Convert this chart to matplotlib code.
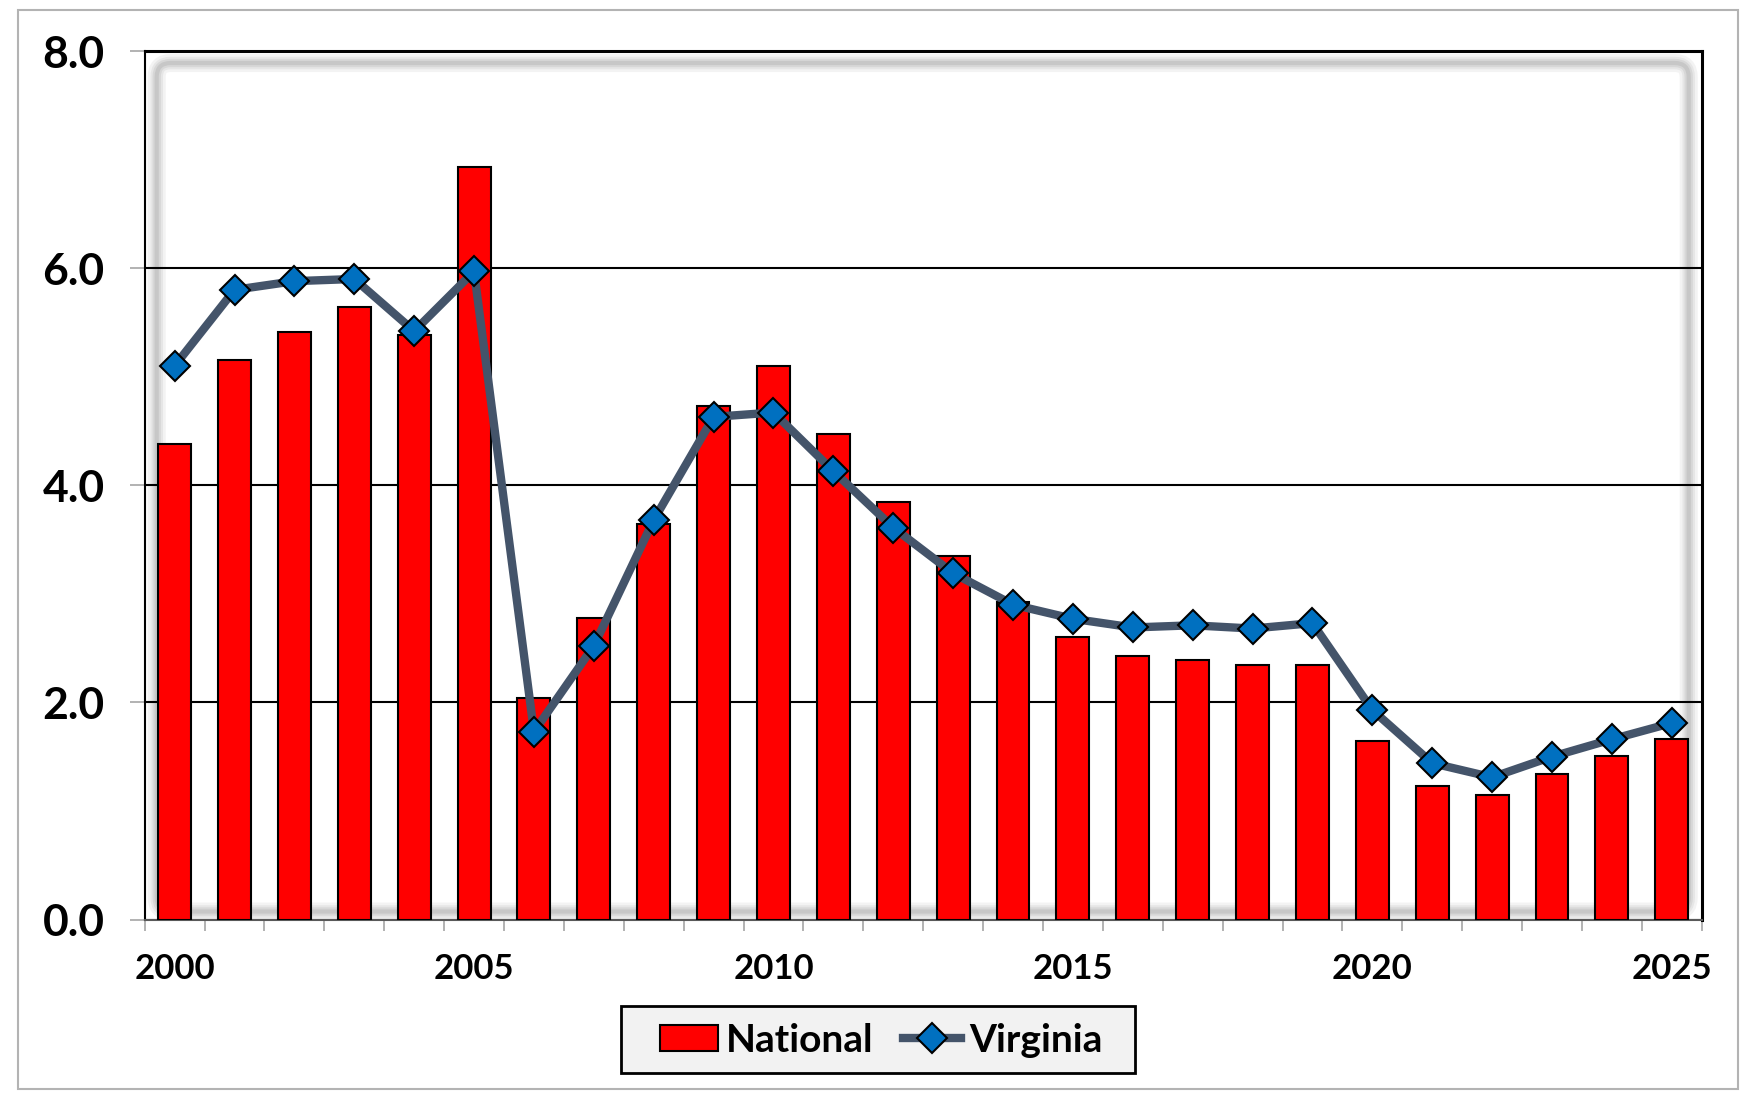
import numpy as np
import matplotlib.pyplot as plt
from matplotlib.patches import FancyBboxPatch, Rectangle

years = list(range(2000, 2026))
national = [4.38, 5.15, 5.41, 5.64, 5.38, 6.93, 2.04, 2.78, 3.64, 4.73,
            5.10, 4.47, 3.85, 3.35, 2.92, 2.60, 2.43, 2.39, 2.34, 2.34,
            1.64, 1.23, 1.15, 1.34, 1.51, 1.66]
virginia = [5.10, 5.80, 5.88, 5.90, 5.42, 5.97, 1.73, 2.52, 3.68, 4.63,
            4.67, 4.13, 3.61, 3.19, 2.90, 2.77, 2.69, 2.71, 2.68, 2.73,
            1.93, 1.44, 1.31, 1.50, 1.66, 1.81]
y_ticks = [0.0, 2.0, 4.0, 6.0, 8.0]
label_years = [2000, 2005, 2010, 2015, 2020, 2025]

plt.rcParams['font.family'] = ['Lato', 'DejaVu Sans']
plt.rcParams['font.weight'] = 'bold'

W, H = 1754, 1095
fig = plt.figure(figsize=(W / 100, H / 100), dpi=100)
ax_l, ax_b, ax_w, ax_h = 144.7 / W, 1 - 919.5 / H, 1557 / W, 868.5 / H
ax = fig.add_axes([ax_l, ax_b, ax_w, ax_h])

# outer chart frame
fig.patches.append(Rectangle((18 / W, 1 - 1089 / H), 1720 / W, 1079 / H,
                             transform=fig.transFigure, fill=False,
                             ec='#b3b3b3', lw=1.5))

x = np.arange(len(years))
bars = ax.bar(x, national, width=0.55, color='#FF0000', edgecolor='black',
              linewidth=1.5, zorder=3, label='National')
line, = ax.plot(x, virginia, color='#44546A', lw=6, marker='D', ms=15,
                mfc='#0070C0', mec='black', mew=1.5, zorder=4,
                label='Virginia')

# soft inner shadow of the plot area
w_px, h_px = ax_w * W, ax_h * H
x0, x1 = 12 / w_px, 1 - 13 / w_px
y0, y1 = 8 / h_px, 1 - 12 / h_px
for lw, a in [(13, 0.09), (9, 0.11), (6, 0.14), (3, 0.18)]:
    ax.add_patch(FancyBboxPatch((x0, y0), x1 - x0, y1 - y0,
                                boxstyle='round,pad=0,rounding_size=0.009',
                                mutation_aspect=w_px / h_px,
                                transform=ax.transAxes, fill=False,
                                ec='#808080', lw=lw, alpha=a, zorder=0.5))

ax.set_xlim(-0.5, len(years) - 0.5)
ax.set_ylim(0, 8)
ax.set_yticks(y_ticks)
ax.set_yticklabels([f"{v:.1f}" for v in y_ticks])
ax.set_xticks([years.index(y) for y in label_years])
ax.set_xticklabels([str(y) for y in label_years])
ax.set_xticks(np.arange(-0.5, len(years)), minor=True)

ax.yaxis.grid(True, color='black', lw=1.5)
ax.set_axisbelow(True)

ax.tick_params(axis='y', length=11, width=1.2, color='#a6a6a6', pad=18,
               labelsize=32)
ax.tick_params(axis='x', which='major', length=0, pad=24, labelsize=25)
ax.tick_params(axis='x', which='minor', length=8, width=1.2, color='#a6a6a6')

ax.spines['top'].set_linewidth(2.2)
ax.spines['right'].set_linewidth(2.2)
ax.spines['left'].set_linewidth(1.5)
ax.spines['bottom'].set_linewidth(1.5)
ax.spines['bottom'].set_color('#595959')

# legend box drawn separately so padding can match
fig.patches.append(Rectangle((621 / W, 1 - 1073 / H), 514 / W, 67 / H,
                             transform=fig.transFigure, fc='#F2F2F2',
                             ec='black', lw=2, zorder=5))
leg = fig.legend([bars, line], ['National', 'Virginia'], loc='center',
                 bbox_to_anchor=(881 / W, 1 - 1040 / H), ncol=2,
                 fontsize=28, frameon=False, handlelength=1.5,
                 handleheight=0.67, handletextpad=0.2, columnspacing=0.75,
                 borderpad=0.2)
leg.set_zorder(6)

fig.savefig('out.png', dpi=100)
